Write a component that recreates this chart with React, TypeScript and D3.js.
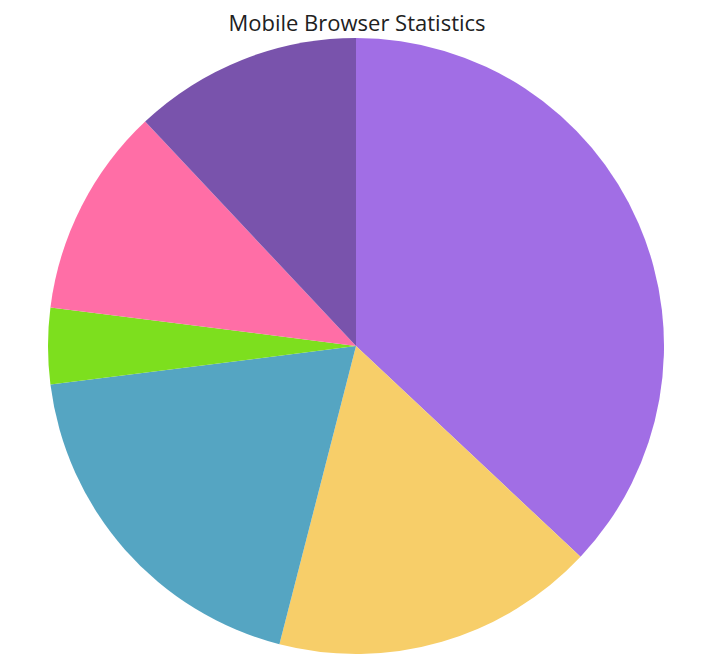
import { useEffect, useRef } from 'react'
import * as d3 from 'd3'

const browsers = ['Chrome', 'UC Browser', 'iPhone', 'Others', 'Opera', 'Android']
const shares = [37, 17, 19, 4, 11, 12]
const colors = ['#a16ee5', '#f7ce69', '#55a5c2', '#7ddf1e', '#ff6ea6', '#7953ac']

const WIDTH = 703
const HEIGHT = 669

export default function App() {
  const svgRef = useRef<SVGSVGElement>(null)

  useEffect(() => {
    const svgEl = svgRef.current
    if (!svgEl) return

    const svg = d3.select(svgEl)
    svg.selectAll('*').remove()

    const cx = 356
    const cy = 346
    const radius = 308

    // Title
    svg.append('text')
      .attr('x', cx + 1)
      .attr('y', 31)
      .attr('text-anchor', 'middle')
      .style('font-family', '"Open Sans", "Noto Sans", sans-serif')
      .style('font-size', '22px')
      .style('fill', '#212121')
      .text('Mobile Browser Statistics')

    const data = browsers.map((name, i) => ({ name, value: shares[i] }))

    const pie = d3.pie<{ name: string; value: number }>()
      .value(d => d.value)
      .sort(null)

    const arc = d3.arc<d3.PieArcDatum<{ name: string; value: number }>>()
      .innerRadius(0)
      .outerRadius(radius)

    const g = svg.append('g').attr('transform', `translate(${cx},${cy})`)

    g.selectAll('path')
      .data(pie(data))
      .enter()
      .append('path')
      .attr('d', arc)
      .style('fill', (_d, i) => colors[i])
  }, [])

  return (
    <div style={{ position: 'absolute', left: 0, top: 0 }}>
      <svg ref={svgRef} width={WIDTH} height={HEIGHT} style={{ display: 'block' }} />
    </div>
  )
}
